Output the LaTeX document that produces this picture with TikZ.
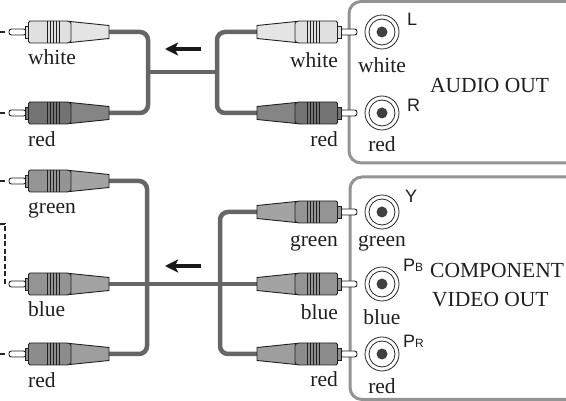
\documentclass[tikz,border=0pt]{standalone}
\usepackage{fontspec}
\setmainfont{Liberation Serif}
\newfontfamily\polsans{Liberation Sans}
\usepackage{tikz}
\usetikzlibrary{arrows.meta}
\tikzset{
  plg_out/.style = {draw=black!88, line width=0.9pt},% contour fiche
  pics/rca/.style 2 args = {code={
    \draw[plg_out, fill=white, rounded corners=2.5pt] (0,-3) rectangle (17,3);% broche
    \draw[plg_out, fill=#1] (16,-6) rectangle (19.5,6);% bague
    \draw[plg_out, fill=#2] (61,-10.5) -- (100,-6.5) -- (100,6.5) -- (61,10.5) -- cycle;% gaine
    \draw[plg_out, fill=#1, rounded corners=1.5pt] (19.5,-11) -- (59,-11) -- (62,-10)
      -- (62,10) -- (59,11) -- (19.5,11) -- cycle;% corps
    \foreach \rx in {38,41,...,50} \draw[plg_out] (\rx,-11) -- (\rx,11);
    \coordinate (-tip) at (0,0);
    \coordinate (-end) at (100,0);
  }},
  pics/jack/.style = {code={
    \draw[black!85, line width=0.8pt] (0,0) circle (17pt) (0,0) circle (13pt);
    \fill[black!75] (0,0) circle (5.5pt);
  }},
  cable/.style = {draw=black!60, line width=4.5pt, rounded corners=8pt},
  panel/.style = {draw=black!42, line width=3pt, rounded corners=12pt},
  lbl/.style = {inner sep=0pt, text=black!88, font=\fontsize{21.5}{24}\selectfont},
  pol/.style = {inner sep=0pt, text=black!88, font=\polsans\fontsize{18}{20}\selectfont},
  lead/.style = {draw=black!85, line width=1.3pt},
  dir_arr/.style = {draw=black!90, line width=3.5pt,
    -{Stealth[length=13pt, width=13pt, inset=3pt]}}
}
\begin{document}
\begin{tikzpicture}[x=1pt, y=-1pt]
\useasboundingbox (0,0) rectangle (566,401);
\clip (0,0) rectangle (566,401);
% panneaux
\draw[panel] (349,1.5) rectangle (620,163);
\draw[panel] (350,177) rectangle (620,399.5);
\foreach \jn/\jy in {pL/32, pR/113, pY/212, pPb/284, pPr/354}
  \pic (\jn) at (382,\jy) {jack};
% points de jonction
\coordinate (ja) at (148,72);
\coordinate (jb) at (217,72);
\coordinate (jc) at (147,284);
\coordinate (jd) at (220,284);
% extremites des cables
\coordinate (plw-end) at (109,32);
\coordinate (plr-end) at (109,113);
\coordinate (lg-end) at (109,181);
\coordinate (lb-end) at (109,284);
\coordinate (lr-end) at (109,354);
\coordinate (prw-end) at (257,32);
\coordinate (prr-end) at (257,113);
\coordinate (rg-end) at (257,212);
\coordinate (rb-end) at (257,284);
\coordinate (rr-end) at (257,354);
% cables
\draw[cable] (plw-end) -| (ja) |- (plr-end);
\draw[cable] (ja) -- (jb);
\draw[cable] (prw-end) -| (jb) |- (prr-end);
\draw[cable] (lg-end) -| (jc) |- (lr-end);
\draw[cable] (lb-end) -- (rb-end);
\draw[cable] (rg-end) -| (jd) |- (rr-end);
% fiches cote gauche
\pic (plw) at (9,32) {rca={black!12}{black!10}};
\pic (plr) at (9,113) {rca={black!55}{black!48}};
\pic (lg) at (9,181) {rca={black!42}{black!36}};
\pic (lb) at (9,284) {rca={black!42}{black!36}};
\pic (lr) at (9,354) {rca={black!45}{black!38}};
% fiches cote droit
\pic[xscale=-1] (prw) at (357,32) {rca={black!12}{black!10}};
\pic[xscale=-1] (prr) at (357,113) {rca={black!55}{black!48}};
\pic[xscale=-1] (rg) at (357,212) {rca={black!42}{black!36}};
\pic[xscale=-1] (rb) at (357,284) {rca={black!42}{black!36}};
\pic[xscale=-1] (rr) at (357,354) {rca={black!45}{black!38}};
% fils a gauche
\foreach \p in {plw,plr,lg,lr} \draw[lead] ([xshift=-4pt]\p-tip) -- ++(-8,0);
\draw[lead, dash pattern=on 5pt off 2.5pt] ([xshift=-4pt]lb-tip) |- (-1,224);
% fleches
\coordinate (a1) at (201,49);
\coordinate (a1t) at (165,49);
\coordinate (a2) at (201,266);
\coordinate (a2t) at (165,266);
\draw[dir_arr] (a1) -- (a1t);
\draw[dir_arr] (a2) -- (a2t);
% textes
\node[lbl, anchor=base west] (tlw) at (28,65) {white};
\node[lbl, anchor=base west] (tlr) at (28,147) {red};
\node[lbl, anchor=base east] (trw) at (338,68) {white};
\node[lbl, anchor=base east] (trr) at (338,147) {red};
\node[lbl, anchor=base] (tjw) at (382,73) {white};
\node[lbl, anchor=base] (tjr) at (382,152) {red};
\node[pol, anchor=base west] (tL) at (407,26) {L};
\node[pol, anchor=base west] (tR) at (407,112) {R};
\node[lbl, anchor=base west] (tao) at (430,93) {AUDIO OUT};
\node[lbl, anchor=base west] (blg) at (28,214) {green};
\node[lbl, anchor=base west] (blb) at (28,317) {blue};
\node[lbl, anchor=base west] (blr) at (28,388) {red};
\node[lbl, anchor=base east] (brg) at (338,247) {green};
\node[lbl, anchor=base east] (brb) at (338,320) {blue};
\node[lbl, anchor=base east] (brr) at (338,387) {red};
\node[lbl, anchor=base] (bjg) at (382,247) {green};
\node[lbl, anchor=base] (bjb) at (382,325) {blue};
\node[lbl, anchor=base] (bjr) at (382,393) {red};
\node[pol, anchor=base west] (tY) at (405,203) {Y};
\node[pol, anchor=base west] (tPb) at (403,272) {P{\fontsize{12}{12}\selectfont B}};
\node[pol, anchor=base west] (tPr) at (403,348) {P{\fontsize{12}{12}\selectfont R}};
\node[lbl, anchor=base west] (tco) at (430,278) {COMPONENT};
\node[lbl, anchor=base west] (tvo) at (432,307) {VIDEO OUT};
\end{tikzpicture}
\end{document}
